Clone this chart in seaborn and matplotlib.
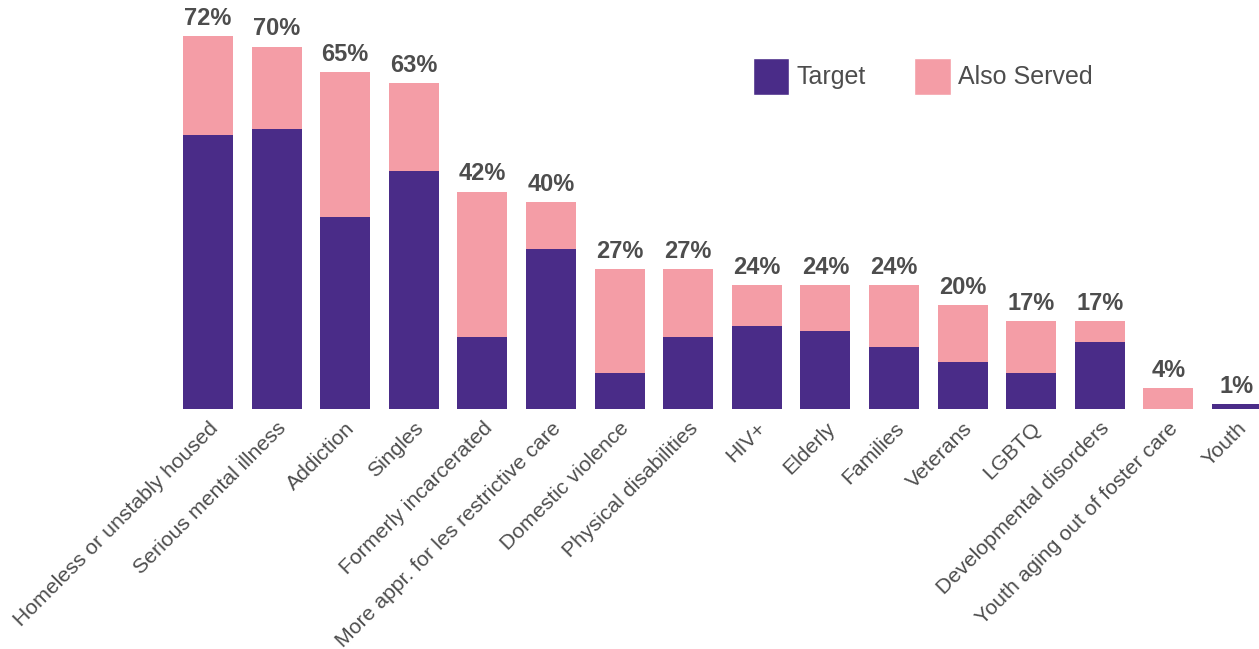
import matplotlib
matplotlib.use("Agg")
import matplotlib.pyplot as plt
import seaborn as sns
import pandas as pd
from matplotlib.patches import Patch

categories = ["Homeless or unstably housed", "Serious mental illness", "Addiction", "Singles",
              "Formerly incarcerated", "More appr. for les restrictive care", "Domestic violence",
              "Physical disabilities", "HIV+", "Elderly", "Families", "Veterans", "LGBTQ",
              "Developmental disorders", "Youth aging out of foster care", "Youth"]
target = [53, 54, 37, 46, 14, 31, 7, 14, 16, 15, 12, 9, 7, 13, 0, 1]
also_served = [19, 16, 28, 17, 28, 9, 20, 13, 8, 9, 12, 11, 10, 4, 4, 0]
total_labels = ["72%", "70%", "65%", "63%", "42%", "40%", "27%", "27%", "24%", "24%", "24%",
                "20%", "17%", "17%", "4%", "1%"]

PURPLE = "#4A2C88"
PINK = "#F49DA6"
GRAY = "#4D4D4D"

sns.set_theme(style="white")
FAM = ["Liberation Sans", "DejaVu Sans"]
plt.rcParams["font.family"] = FAM

df = pd.DataFrame({"category": categories, "target": target, "also": also_served})
df["total"] = df["target"] + df["also"]

fig = plt.figure(figsize=(12.59, 6.49), dpi=100)
ax = fig.add_axes([173.7 / 1259, (649 - 409) / 649, 1085.3 / 1259, 409 / 649])

sns.barplot(data=df, x="category", y="total", color=PINK, width=0.73, saturation=1,
            linewidth=0, ax=ax)
sns.barplot(data=df, x="category", y="target", color=PURPLE, width=0.73, saturation=1,
            linewidth=0, ax=ax)

ax.set_xlim(-0.5, 15.32)
ax.set_ylim(0, 79)
for s in ax.spines.values():
    s.set_visible(False)
ax.set_yticks([])
ax.set_xlabel("")
ax.set_ylabel("")
ax.tick_params(axis="x", length=0, pad=7)
ax.set_xticks(range(len(categories)))
ax.set_xticklabels(categories, rotation=45, ha="right", rotation_mode="anchor",
                   fontsize=15.3, color=GRAY, family=FAM)

for i, (t, lab) in enumerate(zip(df["total"], total_labels)):
    ax.text(i, t + 1.2, lab, ha="center", va="bottom", fontsize=17, color=GRAY,
            fontweight="bold", family=FAM)

handles = [Patch(facecolor=PURPLE, label="Target"), Patch(facecolor=PINK, label="Also Served")]
leg = fig.legend(handles=handles, loc="upper left", bbox_to_anchor=(730 / 1259, 1 - 35 / 649),
                 ncol=2, frameon=False, handlelength=1.45, handleheight=1.9,
                 handletextpad=0.3, columnspacing=1.95,
                 prop={"family": FAM, "size": 18})
for txt in leg.get_texts():
    txt.set_color(GRAY)

fig.savefig("out.png", dpi=100)
